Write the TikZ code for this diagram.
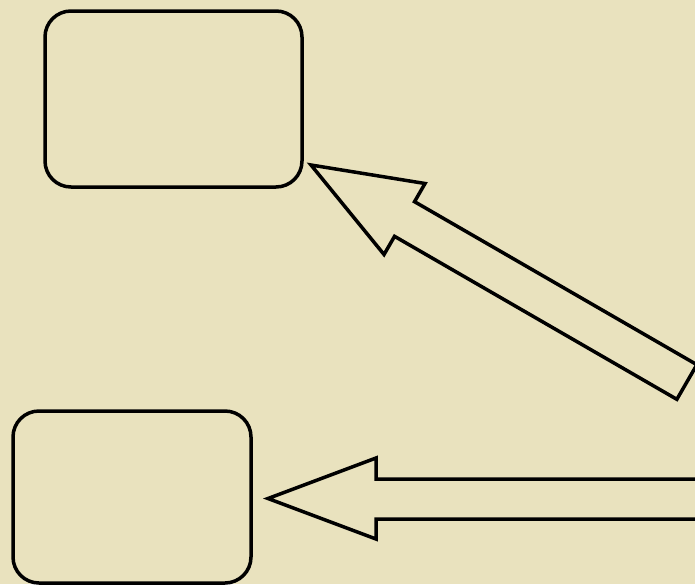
\documentclass[tikz,border=0pt]{standalone}
\usetikzlibrary{calc}
\definecolor{paper}{RGB}{233,226,190}
\tikzset{
  panel/.style={draw=black, line width=3.5pt, rounded corners=26pt, fill=none, inner sep=0pt},
  blockarrow/.style={draw=black, line width=3.5pt, line join=miter, miter limit=10, fill=paper}
}
\begin{document}
\begin{tikzpicture}[x=1pt, y=-1pt]
  % page and background
  \useasboundingbox (0,0) rectangle (695,584);
  \fill[paper] (0,0) rectangle (695,584);
  \clip (0,0) rectangle (695,584);

  % two empty rounded panels
  \node[panel, minimum width=257pt, minimum height=176pt] (upper) at (173.5,99) {};
  \node[panel, minimum width=238pt, minimum height=172pt] (lower) at (132,497) {};

  % arrow tips, just beside the panels
  \coordinate (uppertip) at (311,165);
  \coordinate (lowertip) at (268,498.5);

  % diagonal block arrow pointing at the upper panel
  \begin{scope}[shift={(uppertip)}, rotate=-30]
    \draw[blockarrow] (0,0) -- (108,-41) -- (108,-20) -- (434,-20)
      -- (434,20) -- (108,20) -- (108,41) -- cycle;
  \end{scope}

  % horizontal block arrow pointing at the lower panel
  \begin{scope}[shift={(lowertip)}]
    \draw[blockarrow] (0,0) -- (108,-40.5) -- (108,-19.5) -- (450,-19.5)
      -- (450,20.5) -- (108,20.5) -- (108,40.5) -- cycle;
  \end{scope}
\end{tikzpicture}
\end{document}
